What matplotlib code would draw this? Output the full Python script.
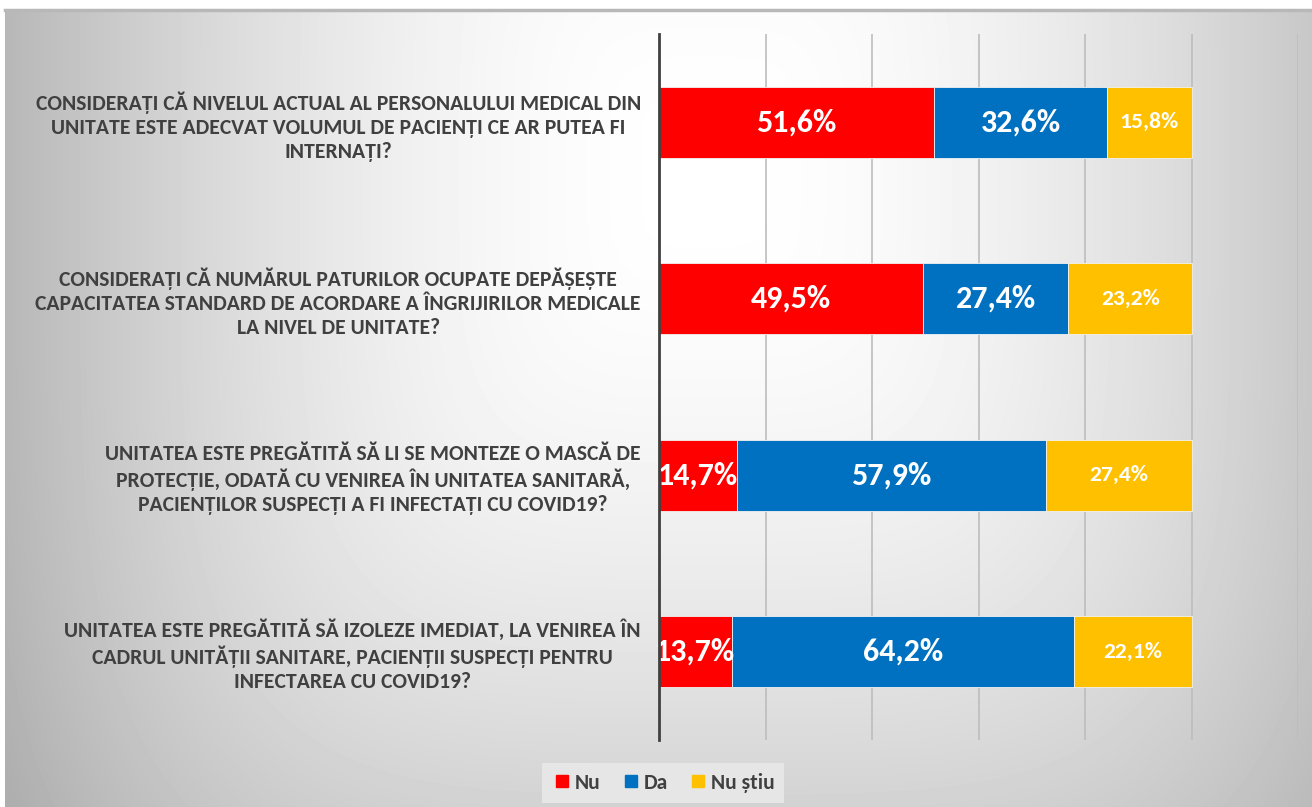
import matplotlib
matplotlib.use('Agg')
import matplotlib.pyplot as plt
from matplotlib.lines import Line2D
from matplotlib import font_manager as fm
import numpy as np

intrebari = [
    'CONSIDERAȚI CĂ NIVELUL ACTUAL AL PERSONALULUI MEDICAL DIN\nUNITATE ESTE ADECVAT VOLUMUL DE PACIENȚI CE AR PUTEA FI\nINTERNAȚI?',
    'CONSIDERAȚI CĂ NUMĂRUL PATURILOR OCUPATE DEPĂȘEȘTE\nCAPACITATEA STANDARD DE ACORDARE A ÎNGRIJIRILOR MEDICALE\nLA NIVEL DE UNITATE?',
    'UNITATEA ESTE PREGĂTITĂ SĂ LI SE MONTEZE O MASCĂ DE\nPROTECȚIE, ODATĂ CU VENIREA ÎN UNITATEA SANITARĂ,\nPACIENȚILOR SUSPECȚI A FI INFECTAȚI CU COVID19?',
    'UNITATEA ESTE PREGĂTITĂ SĂ IZOLEZE IMEDIAT, LA VENIREA ÎN\nCADRUL UNITĂȚII SANITARE, PACIENȚII SUSPECȚI PENTRU\nINFECTAREA CU COVID19?',
]
nu = [51.6, 49.5, 14.7, 13.7]
da = [32.6, 27.4, 57.9, 64.2]
nu_stiu = [15.8, 23.2, 27.4, 22.1]
serii = ['Nu', 'Da', 'Nu știu']
culori = ['#FF0000', '#0070C0', '#FFC000']

# alegem un font ingust daca exista
font, stretch = 'Roboto', 'normal'
gasit = False
for fam in ['Liberation Sans Narrow', 'Carlito', 'Roboto Condensed', 'Open Sans', 'Noto Sans', 'DejaVu Sans']:
    for f in fm.fontManager.ttflist:
        st = f.stretch
        ingust = st in ('condensed', 'semi-condensed', 'extra-condensed') or (isinstance(st, (int, float)) and st < 500)
        if f.name == fam and (ingust or fam in ('Liberation Sans Narrow', 'Carlito', 'Roboto Condensed')):
            font, stretch = fam, (st if ingust else 'normal')
            gasit = True
            break
    if gasit:
        break
plt.rcParams['font.family'] = [font, 'DejaVu Sans']
plt.rcParams['font.stretch'] = stretch
gri = '#404040'

fig = plt.figure(figsize=(13.12, 8.07), dpi=100, facecolor='white')
rend = fig.canvas.get_renderer()


def latime(s, fs):
    t = fig.text(0, 0, s, fontsize=fs, fontweight='bold')
    w = t.get_window_extent(rend).width
    t.remove()
    return w


fs_cat = 15 * 605 / latime('CONSIDERAȚI CĂ NIVELUL ACTUAL AL PERSONALULUI MEDICAL DIN', 15)
fs_mare = 22 * 80 / latime('49,5%', 22)
fs_mic = 15 * 59 / latime('23,2%', 15)
fs_leg = min(15.5, fs_cat)

# fundal cu gradient
bg = fig.add_axes([5 / 1312, 0, 1 - 5 / 1312, 797 / 807])
yy, xx = np.mgrid[0:797, 0:1307]
d = (((xx - 700) / 640.0) ** 4 + ((yy - 160) / 760.0) ** 4) ** 0.25
v = 1 - 0.24 * np.clip(d, 0, 1.2) ** 1.8
bg.imshow(v, cmap='gray', vmin=0, vmax=1, aspect='auto', interpolation='bilinear')
bg.axis('off')
fig.add_artist(Line2D([5 / 1312, 1], [797 / 807, 797 / 807], color='#b8b8b8', lw=2.5))

ax = fig.add_axes([659 / 1312, 67 / 807, 639 / 1312, 706 / 807])
ax.set_facecolor('none')
y = np.arange(len(intrebari))
stanga = np.zeros(len(intrebari))
for nume, val, col in zip(serii, [nu, da, nu_stiu], culori):
    ax.barh(y, val, left=stanga, height=0.4, color=col, edgecolor='#f2f2f2', lw=0.6, zorder=3)
    fs = fs_mic if nume == 'Nu știu' else fs_mare
    for yi, s, w in zip(y, stanga, val):
        ax.text(s + w / 2, yi, f'{w:.1f}%'.replace('.', ','), ha='center', va='center',
                color='white', fontsize=fs, fontweight='bold', zorder=4)
    stanga += np.array(val)

ax.set_xlim(0, 120)
ax.set_ylim(3.5, -0.5)
ax.set_xticks(np.arange(0, 121, 20))
ax.set_xticklabels([])
ax.tick_params(axis='x', length=0)
ax.grid(axis='x', color='#bdbdbd', lw=1.2, zorder=0)
ax.set_yticks(y)
ax.set_yticklabels(intrebari, fontsize=fs_cat, fontweight='bold', color=gri,
                   multialignment='center', linespacing=1.25)
ax.tick_params(axis='y', length=0, pad=13)
for s in ['top', 'right', 'bottom']:
    ax.spines[s].set_visible(False)
ax.spines['left'].set_color(gri)
ax.spines['left'].set_linewidth(2)
ax.spines['left'].set_zorder(5)

handles = [Line2D([], [], marker='s', ls='', color=c, markersize=9) for c in culori]
leg = fig.legend(handles, serii, loc='center', bbox_to_anchor=(663 / 1312, 1 - 783 / 807),
                 ncol=3, fontsize=fs_leg, frameon=True, facecolor='#e6e6e6', edgecolor='none',
                 handletextpad=0.1, handlelength=1.0, columnspacing=0.9, borderpad=0.45,
                 framealpha=1, fancybox=False)
for t in leg.get_texts():
    t.set_color(gri)
    t.set_fontweight('bold')

fig.savefig('out.png', dpi=100)
